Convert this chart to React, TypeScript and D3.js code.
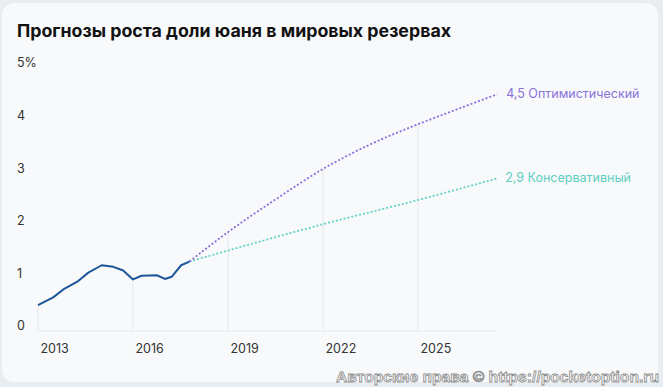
import React from "react";
import * as d3 from "d3";

const W = 663;
const H = 387;

const title = "Прогнозы роста доли юаня в мировых резервах";
const watermark = "Авторские права © https://pocketoption.ru";

const yTicks = [0, 1, 2, 3, 4, 5];
const xTicks = [2013, 2016, 2019, 2022, 2025];

const histYears = [2013.0, 2013.48, 2013.8, 2014.27, 2014.59, 2015.01, 2015.38, 2015.69, 2016.0, 2016.27, 2016.75, 2017.01, 2017.22, 2017.52, 2017.78];
const histValues = [0.49, 0.64, 0.79, 0.95, 1.11, 1.25, 1.22, 1.15, 0.98, 1.05, 1.06, 0.99, 1.03, 1.25, 1.32];

const optYears = [2017.78, 2019, 2020.5, 2022, 2023.5, 2025, 2026.3, 2027.5];
const optValues = [1.32, 1.88, 2.5, 3.08, 3.55, 3.93, 4.23, 4.5];

const consYears = [2017.78, 2019, 2022, 2025, 2027.5];
const consValues = [1.32, 1.53, 2.03, 2.49, 2.9];

const optLabel = "4,5 Оптимистический";
const consLabel = "2,9 Консервативный";

export default function App() {
  const x = d3.scaleLinear().domain([2013, 2025]).range([38, 418]);
  const y = d3.scaleLinear().domain([0, 5]).range([331, 68]);

  const hist = histYears.map((yr, i) => [yr, histValues[i]] as [number, number]);
  const opt = optYears.map((yr, i) => [yr, optValues[i]] as [number, number]);
  const cons = consYears.map((yr, i) => [yr, consValues[i]] as [number, number]);

  const lineHist = d3
    .line<[number, number]>()
    .x((d) => x(d[0]))
    .y((d) => y(d[1]));
  const lineSmooth = d3
    .line<[number, number]>()
    .x((d) => x(d[0]))
    .y((d) => y(d[1]))
    .curve(d3.curveMonotoneX);

  const interp = (pts: [number, number][], yr: number) => {
    for (let i = 0; i < pts.length - 1; i++) {
      if (yr >= pts[i][0] && yr <= pts[i + 1][0]) {
        const t = (yr - pts[i][0]) / (pts[i + 1][0] - pts[i][0]);
        return pts[i][1] + t * (pts[i + 1][1] - pts[i][1]);
      }
    }
    return 0;
  };
  const topAt = (yr: number) => Math.max(interp(hist, yr), interp(opt, yr));

  const endYear = optYears[optYears.length - 1];
  const font = "Inter, 'Noto Sans', Arial, sans-serif";

  return (
    <svg
      width={W}
      height={H}
      style={{ position: "absolute", left: 0, top: 0, display: "block" }}
      fontFamily={font}
    >
      <rect x={0} y={0} width={W} height={H} fill="#e8edf1" />
      <rect x={2} y={3} width={656} height={379} rx={12} fill="#f8f9fa" />
      <text x={17} y={37} fontSize={17.5} fontWeight={700} fill="#111" textLength={434} lengthAdjust="spacingAndGlyphs">
        {title}
      </text>

      {xTicks.map((t) => (
        <line key={"g" + t} x1={x(t)} x2={x(t)} y1={y(0)} y2={y(topAt(t))} stroke="#e6e7e9" strokeWidth={1} />
      ))}
      <line x1={x(2013)} x2={x(endYear)} y1={y(0)} y2={y(0)} stroke="#e6e7e9" strokeWidth={1} />

      {yTicks.map((t) => (
        <text key={"y" + t} x={17} y={y(t) - 5} dy="0.35em" fontSize={12.5} fill="#333">
          {t === 5 ? "5%" : String(t)}
        </text>
      ))}
      {xTicks.map((t) => (
        <text key={"x" + t} x={x(t) + 2.5} y={349} dy="0.35em" fontSize={12.5} fill="#333">
          {String(t)}
        </text>
      ))}

      <path d={lineSmooth(cons) || ""} fill="none" stroke="#62d3c8" strokeWidth={1.8} strokeDasharray="2 2" />
      <path d={lineSmooth(opt) || ""} fill="none" stroke="#8b6ddf" strokeWidth={1.8} strokeDasharray="2 2" />
      <path d={lineHist(hist) || ""} fill="none" stroke="#1d5799" strokeWidth={2} strokeLinejoin="round" />

      <text x={x(endYear) + 9} y={y(optValues[optValues.length - 1]) - 1} dy="0.35em" fontSize={12.5} fill="#8a72dc">
        {optLabel}
      </text>
      <text x={x(endYear) + 8} y={y(consValues[consValues.length - 1]) - 1} dy="0.35em" fontSize={12.5} fill="#5ccfc2">
        {consLabel}
      </text>

      <text
        x={336}
        y={382}
        fontSize={15.5}
        fontWeight={700}
        fontFamily="Arial, 'Liberation Sans', sans-serif"
        fill="#f4f4f4"
        stroke="#8f8f8f"
        strokeWidth={0.8}
        textLength={323}
        lengthAdjust="spacingAndGlyphs"
      >
        {watermark}
      </text>
    </svg>
  );
}
